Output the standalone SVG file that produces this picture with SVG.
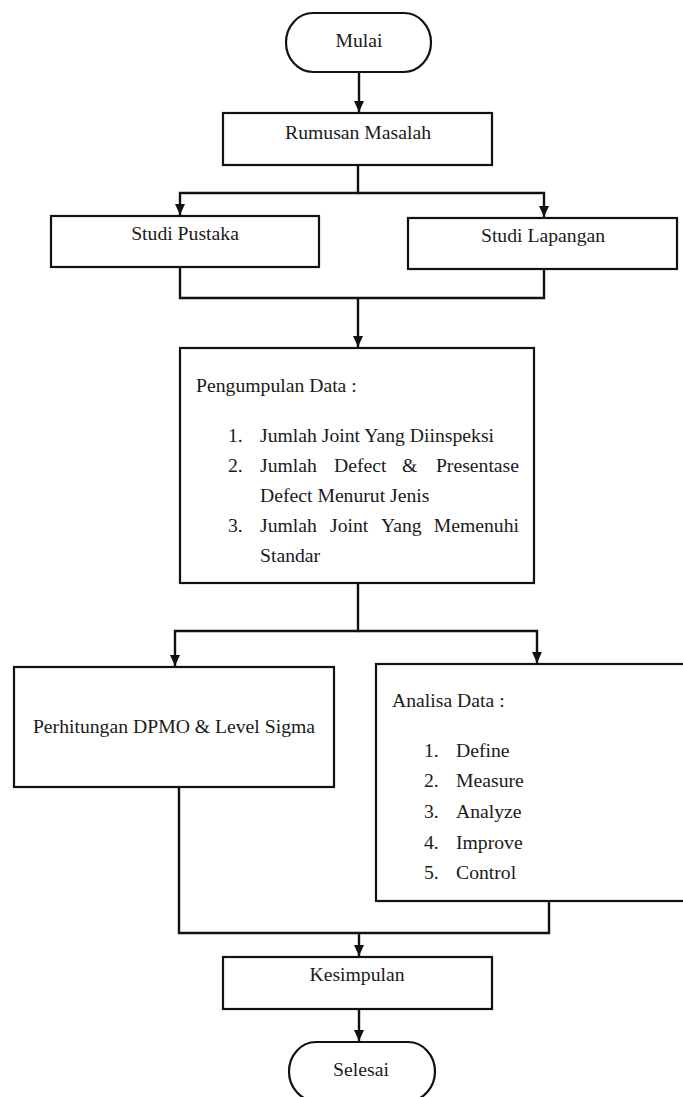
<svg xmlns="http://www.w3.org/2000/svg" width="683" height="1097" viewBox="0 0 683 1097">
  <style>
    .box { fill: #ffffff; stroke: #111111; stroke-width: 2.2; }
    .wire { fill: none; stroke: #111111; stroke-width: 2.4; }
    text { font-family: 'Liberation Serif', 'Times New Roman', Times, serif; font-size: 19.7px; fill: #1a1a1a; }
    .c { text-anchor: middle; }
    .e { text-anchor: end; }
  </style>
  <defs>
    <marker id="arrow" viewBox="0 0 11 10" refX="11" refY="5" markerWidth="11" markerHeight="10" markerUnits="userSpaceOnUse" orient="auto">
      <path d="M0,0 L11,5 L0,10 Z" fill="#111111"/>
    </marker>
  </defs>
  <rect width="683" height="1097" fill="#ffffff"/>

  <g id="connectors">
    <path class="wire" d="M359,72 V112" marker-end="url(#arrow)"/>
    <path class="wire" d="M358,165 V193 H180 V215" marker-end="url(#arrow)"/>
    <path class="wire" d="M358,193 H544 V217" marker-end="url(#arrow)"/>
    <path class="wire" d="M180,267 V298 H544 V269"/>
    <path class="wire" d="M358,298 V347" marker-end="url(#arrow)"/>
    <path class="wire" d="M358,583 V631 H175 V666" marker-end="url(#arrow)"/>
    <path class="wire" d="M358,631 H537 V663" marker-end="url(#arrow)"/>
    <path class="wire" d="M179,787 V933 H549 V901"/>
    <path class="wire" d="M359,933 V956" marker-end="url(#arrow)"/>
    <path class="wire" d="M359,1009 V1041" marker-end="url(#arrow)"/>
  </g>

  <g font-family="Liberation Serif, serif">
  <g id="mulai">
    <rect class="box" x="286" y="13" width="145" height="59" rx="27" ry="29.5"/>
    <text class="c" x="359" y="47">Mulai</text>
  </g>

  <g id="rumusan">
    <rect class="box" x="223" y="113" width="269" height="52"/>
    <text class="c" x="358" y="139">Rumusan Masalah</text>
  </g>

  <g id="studi-pustaka">
    <rect class="box" x="51" y="216" width="268" height="51"/>
    <text class="c" x="185" y="240">Studi Pustaka</text>
  </g>

  <g id="studi-lapangan">
    <rect class="box" x="408" y="218" width="269" height="51"/>
    <text class="c" x="543" y="242">Studi Lapangan</text>
  </g>

  <g id="pengumpulan">
    <rect class="box" x="180" y="348" width="354" height="235"/>
    <text x="196" y="392">Pengumpulan Data :</text>
    <text x="228" y="442">1.</text>
    <text x="260" y="442">Jumlah Joint Yang Diinspeksi</text>
    <text x="228" y="472">2.</text>
    <text x="260" y="472">Jumlah</text>
    <text x="334" y="472">Defect</text>
    <text x="402" y="472">&amp;</text>
    <text class="e" x="519" y="472">Presentase</text>
    <text x="260" y="502">Defect Menurut Jenis</text>
    <text x="228" y="532">3.</text>
    <text x="260" y="532">Jumlah</text>
    <text x="330" y="532">Joint</text>
    <text x="381" y="532">Yang</text>
    <text class="e" x="519" y="532">Memenuhi</text>
    <text x="260" y="562">Standar</text>
  </g>

  <g id="perhitungan">
    <rect class="box" x="14" y="667" width="320" height="120"/>
    <text class="c" x="174" y="733">Perhitungan DPMO &amp; Level Sigma</text>
  </g>

  <g id="analisa">
    <rect class="box" x="376" y="664" width="320" height="237"/>
    <text x="392" y="707">Analisa Data :</text>
    <text x="424" y="757">1.</text>
    <text x="456" y="757">Define</text>
    <text x="424" y="787">2.</text>
    <text x="456" y="787">Measure</text>
    <text x="424" y="818">3.</text>
    <text x="456" y="818">Analyze</text>
    <text x="424" y="849">4.</text>
    <text x="456" y="849">Improve</text>
    <text x="424" y="879">5.</text>
    <text x="456" y="879">Control</text>
  </g>

  <g id="kesimpulan">
    <rect class="box" x="223" y="957" width="269" height="52"/>
    <text class="c" x="357" y="981">Kesimpulan</text>
  </g>

  <g id="selesai">
    <rect class="box" x="289" y="1042" width="146" height="59" rx="27" ry="29.5"/>
    <text class="c" x="361" y="1076">Selesai</text>
  </g>
  </g>
</svg>
